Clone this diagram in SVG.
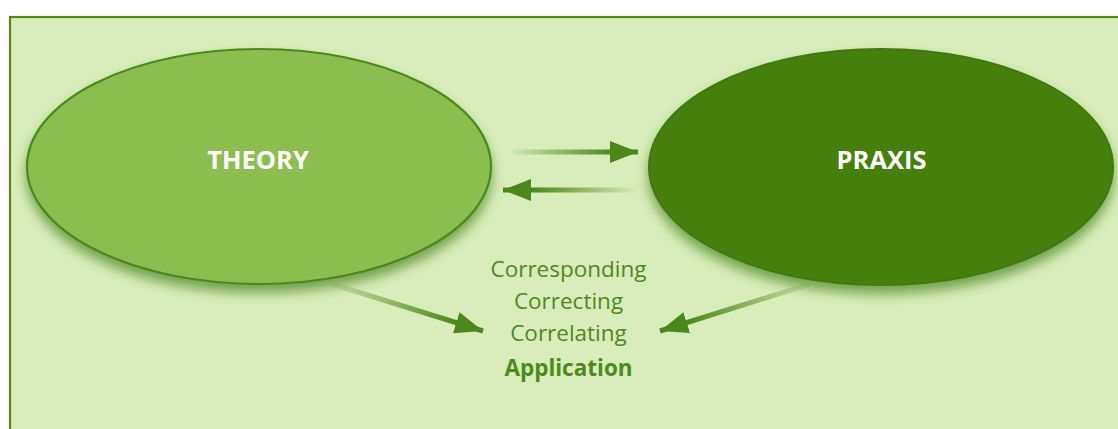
<svg xmlns="http://www.w3.org/2000/svg" width="1118" height="429" viewBox="0 0 1118 429">
  <style>
    .lbl { font-family: "Open Sans", "Liberation Sans", sans-serif; font-weight: bold; font-size: 25.5px; fill: #ffffff; text-anchor: middle; }
    .mid { font-family: "Open Sans", "Liberation Sans", sans-serif; font-size: 22.5px; fill: #4c8a1e; text-anchor: middle; }
    .mid-b { font-weight: bold; }
    .conn { fill: none; stroke-width: 5; }
  </style>
  <defs>
    <filter id="shadow" x="-20%" y="-20%" width="140%" height="150%">
      <feDropShadow dx="0" dy="8" stdDeviation="6" flood-color="#3f7a12" flood-opacity="0.65"/>
    </filter>
    <marker id="head" markerUnits="userSpaceOnUse" markerWidth="30" markerHeight="22" refX="28" refY="11" orient="auto">
      <path d="M0,0 L28,11 L0,22 Z" fill="#4a8819"/>
    </marker>
    <linearGradient id="gTop" gradientUnits="userSpaceOnUse" x1="507" y1="152" x2="612" y2="152">
      <stop offset="0" stop-color="#4a8819" stop-opacity="0"/>
      <stop offset="1" stop-color="#4a8819" stop-opacity="1"/>
    </linearGradient>
    <linearGradient id="gBot" gradientUnits="userSpaceOnUse" x1="638" y1="190" x2="532" y2="190">
      <stop offset="0" stop-color="#4a8819" stop-opacity="0"/>
      <stop offset="1" stop-color="#4a8819" stop-opacity="1"/>
    </linearGradient>
    <linearGradient id="gL" gradientUnits="userSpaceOnUse" x1="332" y1="284" x2="458" y2="323">
      <stop offset="0" stop-color="#4a8819" stop-opacity="0.1"/>
      <stop offset="1" stop-color="#4a8819" stop-opacity="1"/>
    </linearGradient>
    <linearGradient id="gR" gradientUnits="userSpaceOnUse" x1="810" y1="284" x2="686" y2="322">
      <stop offset="0" stop-color="#4a8819" stop-opacity="0.1"/>
      <stop offset="1" stop-color="#4a8819" stop-opacity="1"/>
    </linearGradient>
  </defs>

  <rect x="0" y="0" width="1118" height="429" fill="#ffffff"/>
  <rect id="frame" x="10" y="17" width="1130" height="430" fill="#d8edba" stroke="#4e8a1c" stroke-width="2.2"/>

  <g id="theory">
    <ellipse cx="259" cy="166.5" rx="232" ry="117.5" fill="#8bbd50" stroke="#4a8a1a" stroke-width="2.2" filter="url(#shadow)"/>
    <text class="lbl" x="258" y="169">THEORY</text>
  </g>

  <g id="praxis">
    <ellipse cx="881" cy="167" rx="232" ry="118" fill="#44800f" stroke="#3f7a0d" stroke-width="2" filter="url(#shadow)"/>
    <text class="lbl" x="881.5" y="169">PRAXIS</text>
  </g>

  <g id="connectors">
    <line class="conn" x1="507" y1="152" x2="638" y2="152" stroke="url(#gTop)" marker-end="url(#head)"/>
    <line class="conn" x1="637" y1="190" x2="503" y2="190" stroke="url(#gBot)" marker-end="url(#head)"/>
    <line class="conn" x1="332" y1="284" x2="483" y2="331" stroke="url(#gL)" marker-end="url(#head)"/>
    <line class="conn" x1="810" y1="284" x2="660" y2="331" stroke="url(#gR)" marker-end="url(#head)"/>
  </g>

  <g id="outcome">
    <text class="mid" x="568.5" y="277">Corresponding</text>
    <text class="mid" x="568.5" y="309">Correcting</text>
    <text class="mid" x="568.5" y="341">Correlating</text>
    <text class="mid mid-b" x="568.5" y="376">Application</text>
  </g>
</svg>
